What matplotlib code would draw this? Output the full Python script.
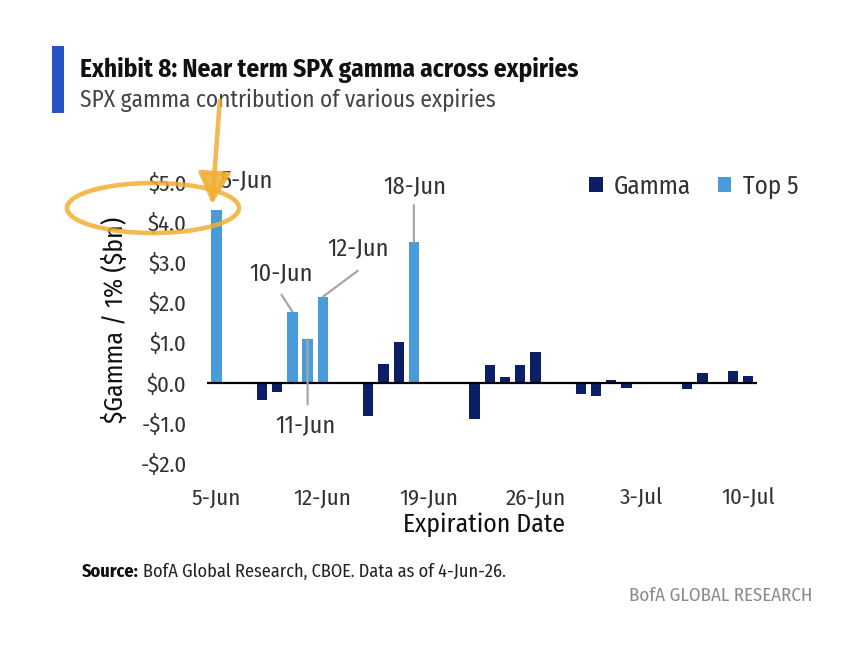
import matplotlib
matplotlib.use("Agg")
import matplotlib.pyplot as plt
import matplotlib.dates as mdates
from matplotlib.patches import Rectangle, Ellipse, FancyArrowPatch, Patch
import numpy as np

# ---------------- data ----------------
expiry_dates = ["2026-06-05", "2026-06-08", "2026-06-09", "2026-06-10", "2026-06-11",
                "2026-06-12", "2026-06-15", "2026-06-16", "2026-06-17", "2026-06-18",
                "2026-06-22", "2026-06-23", "2026-06-24", "2026-06-25", "2026-06-26",
                "2026-06-29", "2026-06-30", "2026-07-01", "2026-07-02", "2026-07-06",
                "2026-07-07", "2026-07-08", "2026-07-09", "2026-07-10"]
gamma_bn = [4.30, -0.43, -0.23, 1.77, 1.08,
            2.14, -0.82, 0.47, 1.01, 3.50,
            -0.90, 0.45, 0.15, 0.45, 0.76,
            -0.27, -0.33, 0.06, -0.12, -0.15,
            0.25, 0.00, 0.29, 0.17]
top5_dates = ["2026-06-05", "2026-06-10", "2026-06-11", "2026-06-12", "2026-06-18"]
top5_labels = ["5-Jun", "10-Jun", "11-Jun", "12-Jun", "18-Jun"]
xtick_dates = ["2026-06-05", "2026-06-12", "2026-06-19", "2026-06-26", "2026-07-03", "2026-07-10"]
xtick_labels = ["5-Jun", "12-Jun", "19-Jun", "26-Jun", "3-Jul", "10-Jul"]
ytick_values = [-2.0, -1.0, 0.0, 1.0, 2.0, 3.0, 4.0, 5.0]
ytick_labels = ["-$2.0", "-$1.0", "$0.0", "$1.0", "$2.0", "$3.0", "$4.0", "$5.0"]

# ---------------- style ----------------
FONT = ["Fira Sans Condensed", "DejaVu Sans"]
plt.rcParams["font.family"] = FONT
plt.rcParams["text.parse_math"] = False
DARK = "#0C1F66"
LIGHT = "#4A9BD9"
TXT = "#333333"
W, H = 866, 660

def fx(x):
    return x / W

def fy(y):
    return 1 - y / H

fig = plt.figure(figsize=(W / 100, H / 100), dpi=100)

# axes placed by pixel geometry
ax_left, ax_right, ax_top, ax_bot = 207.4, 757.0, 182.0, 463.0
ax = fig.add_axes([fx(ax_left), fy(ax_bot), fx(ax_right - ax_left), (ax_bot - ax_top) / H])

d = mdates.date2num(np.array(expiry_dates, dtype="datetime64[D]"))
g = np.array(gamma_bn)
t5 = mdates.date2num(np.array(top5_dates, dtype="datetime64[D]"))
t5_vals = np.array([g[list(d).index(v)] for v in t5])

ax.bar(d, g, width=0.68, color=DARK, zorder=2)
ax.bar(t5, t5_vals, width=0.68, color=LIGHT, zorder=3)
ax.axhline(0, color="black", lw=1.6, zorder=4)

ax.set_ylim(-2.0, 5.0)
ax.set_xlim(d[0] - 0.6, d[-1] + 0.6)
ax.set_yticks(ytick_values)
ax.set_yticklabels(ytick_labels)
ax.set_xticks(mdates.date2num(np.array(xtick_dates, dtype="datetime64[D]")))
ax.set_xticklabels(xtick_labels)
ax.tick_params(axis="both", length=0, labelsize=16.5, labelcolor=TXT)
ax.tick_params(axis="y", pad=15)
ax.tick_params(axis="x", pad=18)
for s in ax.spines.values():
    s.set_visible(False)

# legend
handles = [Patch(facecolor=DARK, label="Gamma"), Patch(facecolor=LIGHT, label="Top 5")]
ax.legend(handles=handles, ncol=2, frameon=False, fontsize=18, loc="upper left",
          bbox_to_anchor=(fx(589), fy(174)), bbox_transform=fig.transFigure,
          handlelength=0.55, handleheight=0.55, handletextpad=0.45, columnspacing=1.06,
          borderpad=0, borderaxespad=0, labelcolor=TXT)

# annotations of top 5 expiries: (text offset px, line start offset px)
text_off = [(30, 30), (-11, 38), (-2, -86), (35, 48), (1, 56)]
line_off = [None, (-11, 17), (0, -65), (35, 26), (0, 37)]
for x, v, lab, to, lo in zip(t5, t5_vals, top5_labels, text_off, line_off):
    if lo is not None:
        ax.annotate("", xy=(x, v), xytext=lo, textcoords="offset pixels",
                    arrowprops=dict(arrowstyle="-", color="#A6A6A6", lw=1.6,
                                    shrinkA=0, shrinkB=0), zorder=5)
    ax.annotate(lab, xy=(x, v), xytext=to, textcoords="offset pixels",
                ha="center", va="center", fontsize=17.5, color=TXT, zorder=6)

# axis labels
fig.text(fx(115), fy(320), "$Gamma / 1% ($bn)", rotation=90, ha="center", va="center",
         fontsize=18.5, color="#111111")
fig.text(fx(484), fy(525), "Expiration Date", ha="center", va="center",
         fontsize=18.5, color="#111111")

# header
fig.patches.append(Rectangle((fx(52), fy(113)), fx(12), 67 / H, transform=fig.transFigure,
                             facecolor="#2454C6", edgecolor="none"))
fig.text(fx(80), fy(77), "Exhibit 8: Near term SPX gamma across expiries", ha="left",
         va="baseline", fontsize=18.2, fontweight="bold", color="#111111")
fig.text(fx(80), fy(107), "SPX gamma contribution of various expiries", ha="left",
         va="baseline", fontsize=16.8, color="#444444")

# source
src_b = fig.text(fx(82), fy(577), "Source:", ha="left", va="baseline", fontsize=13.2,
                 fontweight="bold", color="#111111")
fig.canvas.draw()
bb = src_b.get_window_extent()
fig.text(fx(bb.x1 + 4), fy(577), "BofA Global Research, CBOE. Data as of 4-Jun-26.",
         ha="left", va="baseline", fontsize=13.2, color="#222222")
fig.text(fx(812), fy(601), "BofA GLOBAL RESEARCH", ha="right", va="baseline",
         fontsize=13.6, color="#8A8A8A")

# orange highlight (ellipse + arrow)
ORANGE = "#F2AE33"
fig.patches.append(Ellipse((fx(153), fy(208)), fx(172), 50 / H, transform=fig.transFigure,
                           facecolor="none", edgecolor=ORANGE, lw=3.3, alpha=0.85, zorder=10))
fig.patches.append(FancyArrowPatch((fx(220), fy(98)), (fx(212), fy(207)),
                                   transform=fig.transFigure,
                                   arrowstyle="-|>,head_length=0.95,head_width=0.5",
                                   mutation_scale=20, color=ORANGE, lw=3.3, alpha=0.85,
                                   zorder=10))

fig.savefig("out.png", dpi=100)
